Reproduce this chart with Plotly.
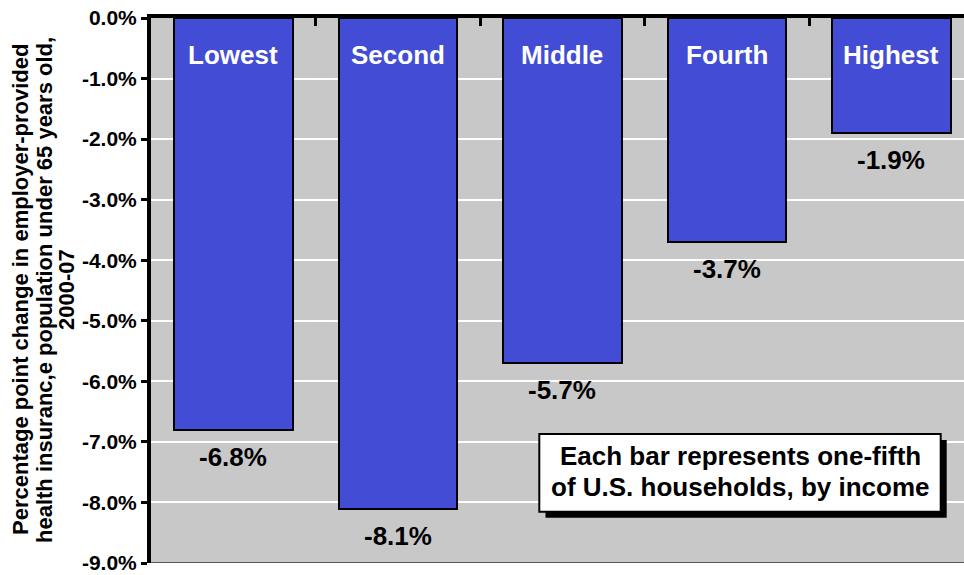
import plotly.graph_objects as go

categories = ["Lowest", "Second", "Middle", "Fourth", "Highest"]
values = [-6.8, -8.1, -5.7, -3.7, -1.9]
tick_vals = [0, -1, -2, -3, -4, -5, -6, -7, -8, -9]
tick_text = ["0.0%", "-1.0%", "-2.0%", "-3.0%", "-4.0%", "-5.0%", "-6.0%", "-7.0%", "-8.0%", "-9.0%"]
title_lines = [
    "Percentage point change in employer-provided",
    "health insuranc,e population under 65 years old,",
    "2000-07",
]
note_lines = ["Each bar represents one-fifth", "of U.S. households, by income"]

FONT = "Liberation Sans, Arial, Helvetica, sans-serif"
BAR = "#434CD5"
BG = "#C8C8C8"

L, T, W, H = 151, 18, 813, 545  # plot area in px


def px_x(p):
    return (p - L) / W


def px_y(p):
    return (T + H - p) / H


xs = list(range(len(categories)))

fig = go.Figure()
fig.add_trace(go.Bar(
    x=xs, y=values, width=0.72,
    marker=dict(color=BAR, line=dict(color="black", width=2)),
    hoverinfo="skip",
))

annotations = []
for x, c, v in zip(xs, categories, values):
    annotations.append(dict(x=x, y=0, xref="x", yref="y", text=f"<b>{c}</b>",
                            showarrow=False, yanchor="middle", yshift=-37,
                            font=dict(family=FONT, size=26, color="white")))
    annotations.append(dict(x=x, y=v, xref="x", yref="y", text=f"<b>{v:.1f}%</b>",
                            showarrow=False, yanchor="middle", yshift=-27,
                            font=dict(family=FONT, size=26, color="black")))

# axis title lines (rotated)
for xpx, line in zip([20, 44, 66], title_lines):
    annotations.append(dict(x=px_x(xpx), y=px_y(290), xref="paper", yref="paper",
                            text=f"<b>{line}</b>", textangle=-90, showarrow=False,
                            xanchor="center", yanchor="middle",
                            font=dict(family=FONT, size=22, color="black")))

for ypx, line in zip([456, 487], note_lines):
    annotations.append(dict(x=px_x(740), y=px_y(ypx), xref="paper", yref="paper",
                            text=f"<b>{line}</b>", showarrow=False,
                            xanchor="center", yanchor="middle",
                            font=dict(family=FONT, size=26, color="black")))

shapes = [
    # shadow
    dict(type="rect", xref="paper", yref="paper", x0=px_x(545.5), x1=px_x(946.7),
         y0=px_y(517.7), y1=px_y(440), fillcolor="black", line=dict(width=0), layer="above"),
    dict(type="rect", xref="paper", yref="paper", x0=px_x(539.3), x1=px_x(940.7),
         y0=px_y(511.7), y1=px_y(434), fillcolor="white", line=dict(color="black", width=2), layer="above"),
    # bottom line
    dict(type="line", xref="paper", yref="y", x0=0, x1=1, y0=-9, y1=-9,
         line=dict(color="#333333", width=1.5)),
]

fig.update_layout(
    width=964, height=575,
    margin=dict(l=L, r=964 - L - W, t=T, b=575 - T - H, autoexpand=False),
    paper_bgcolor="white", plot_bgcolor=BG,
    showlegend=False, bargap=0,
    annotations=annotations, shapes=shapes,
    xaxis=dict(
        range=[-0.5, -0.5 + W / 164.55], side="top",
        showgrid=False, zeroline=False,
        showline=True, linecolor="black", linewidth=4,
        ticks="inside", tickvals=[0.5, 1.5, 2.5, 3.5], ticklen=8, tickwidth=3, tickcolor="black",
        showticklabels=False,
    ),
    yaxis=dict(
        range=[-9, 0], tickvals=tick_vals, ticktext=tick_text,
        showgrid=True, gridcolor="white", gridwidth=2, zeroline=False,
        showline=True, linecolor="black", linewidth=4,
        ticks="outside", ticklen=6, tickwidth=3, tickcolor="black",
        tickfont=dict(family=FONT, size=21, color="black", weight="bold"),
    ),
)

fig.write_html("out.html", config={"displayModeBar": False},
               post_script="document.body.style.margin='0';document.body.style.overflow='hidden';")
